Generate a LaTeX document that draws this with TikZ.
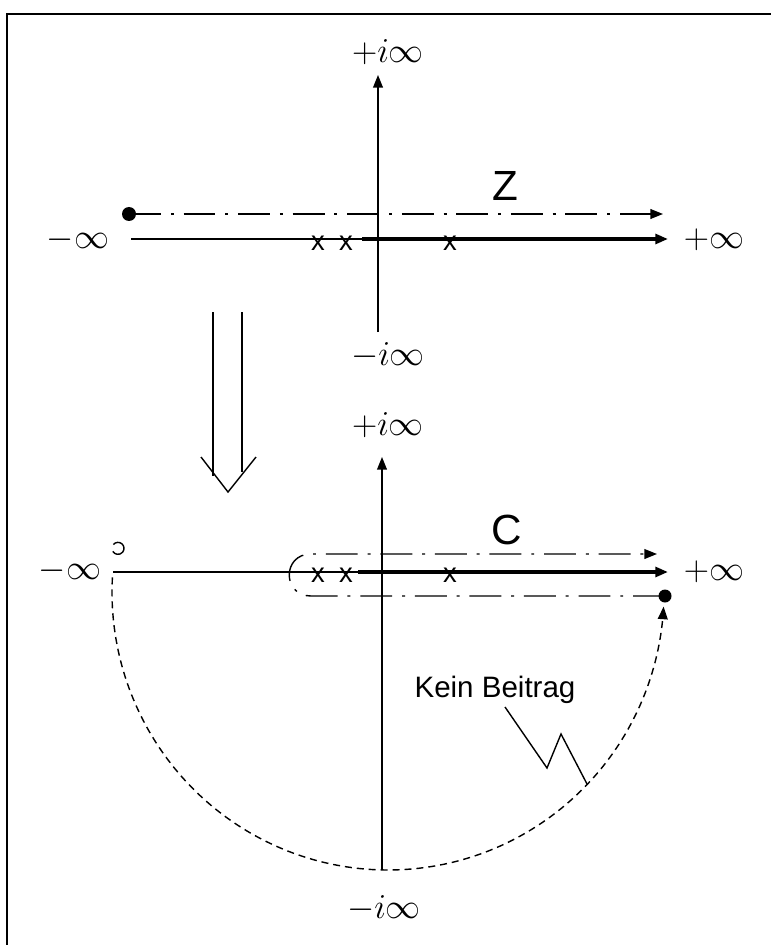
\documentclass[tikz,border=0pt]{standalone}
\usepackage{fontspec}
\newfontfamily\helv{Liberation Sans}
\usetikzlibrary{arrows.meta}

\begin{document}
\begin{tikzpicture}[x=0.025cm, y=-0.025cm,
	every node/.style={inner sep=0pt},
	lbl/.style={font=\fontsize{24.5}{29}\selectfont},
	letter/.style={font=\helv\fontsize{30}{36}\selectfont},
	pole/.style={font=\helv\fontsize{19.5}{22}\selectfont},
	axis/.style={line width=1pt},
	cut/.style={line width=3.5pt},
	contour/.style={line width=1pt, dash pattern=on 22.7pt off 7pt on 2.1pt off 7pt},
	arcline/.style={line width=1pt, dash pattern=on 5pt off 3.5pt},
	arr/.style={-{Triangle[length=9pt,width=7pt]}}]
	\useasboundingbox (0,0) rectangle (771,945);
	\draw[line width=1pt] (7,945) -- (7,14) -- (771,14);

	% Z plane
	\node[lbl] (ti1) at (388,52) {$+i\infty$};
	\node[lbl] (tb1) at (388,355) {$-i\infty$};
	\node[lbl] (tl1) at (78,240) {$-\infty$};
	\node[lbl] (tr1) at (714,240) {$+\infty$};
	\node[letter] (Z) at (505,186) {Z};
	\coordinate (v1s) at (378,332);
	\coordinate (v1e) at (378,75);
	\coordinate (a1s) at (131,239);
	\coordinate (c1) at (362,239);
	\coordinate (a1e) at (668,239);
	\coordinate (zs) at (129,214);
	\coordinate (ze) at (663,214);
	\draw[axis,arr] (v1s) -- (v1e);
	\draw[axis] (a1s) -- (c1);
	\draw[cut,arr] (c1) -- (a1e);
	\fill (zs) circle (7);
	\draw[contour,arr] (zs) -- (ze);
	\node[pole] (p11) at (318,243) {x};
	\node[pole] (p12) at (346,243) {x};
	\node[pole] (p13) at (450,243) {x};

	% double arrow
	\coordinate (d1) at (213,312);
	\coordinate (d2) at (242,312);
	\draw[axis] (d1) -- (213,476);
	\draw[axis] (d2) -- (242,472);
	\draw[axis] (201,457) -- (228,492) -- (256,457);

	% C plane
	\node[lbl] (ti2) at (388,425) {$+i\infty$};
	\node[lbl] (tb2) at (384,908) {$-i\infty$};
	\node[lbl] (tl2) at (70,571) {$-\infty$};
	\node[lbl] (tr2) at (714,572) {$+\infty$};
	\node[letter] (C) at (507,530) {C};
	\coordinate (v2s) at (382,870);
	\coordinate (v2e) at (382,457);
	\coordinate (a2s) at (113,572);
	\coordinate (c2) at (358,572);
	\coordinate (a2e) at (668,572);
	\coordinate (cs) at (665,596);
	\coordinate (ce) at (657,554);
	\draw[axis,arr] (v2s) -- (v2e);
	\draw[axis] (a2s) -- (c2);
	\draw[cut,arr] (c2) -- (a2e);
	\fill (cs) circle (6.5);
	\draw[contour,arr] (cs) -- (311,596) .. controls (282,596) and (282,554) .. (311,554) -- (ce);
	\node[pole] (p21) at (318,575) {x};
	\node[pole] (p22) at (346,575) {x};
	\node[pole] (p23) at (450,575) {x};
	\draw[line width=1pt] (113.4,544.5) arc[start angle=-140, end angle=150, radius=6];
	\draw[arcline,arr] plot[smooth, domain=177:357, samples=61] ({388+276*cos(\x)},{592-278*sin(\x)});

	% no contribution
	\node[font=\helv\fontsize{21}{25}\selectfont] (kb) at (495,690) {Kein Beitrag};
	\coordinate (k1) at (505,707);
	\coordinate (k2) at (587,784);
	\draw[axis] (k1) -- (547,768) -- (561,734) -- (k2);
\end{tikzpicture}
\end{document}
